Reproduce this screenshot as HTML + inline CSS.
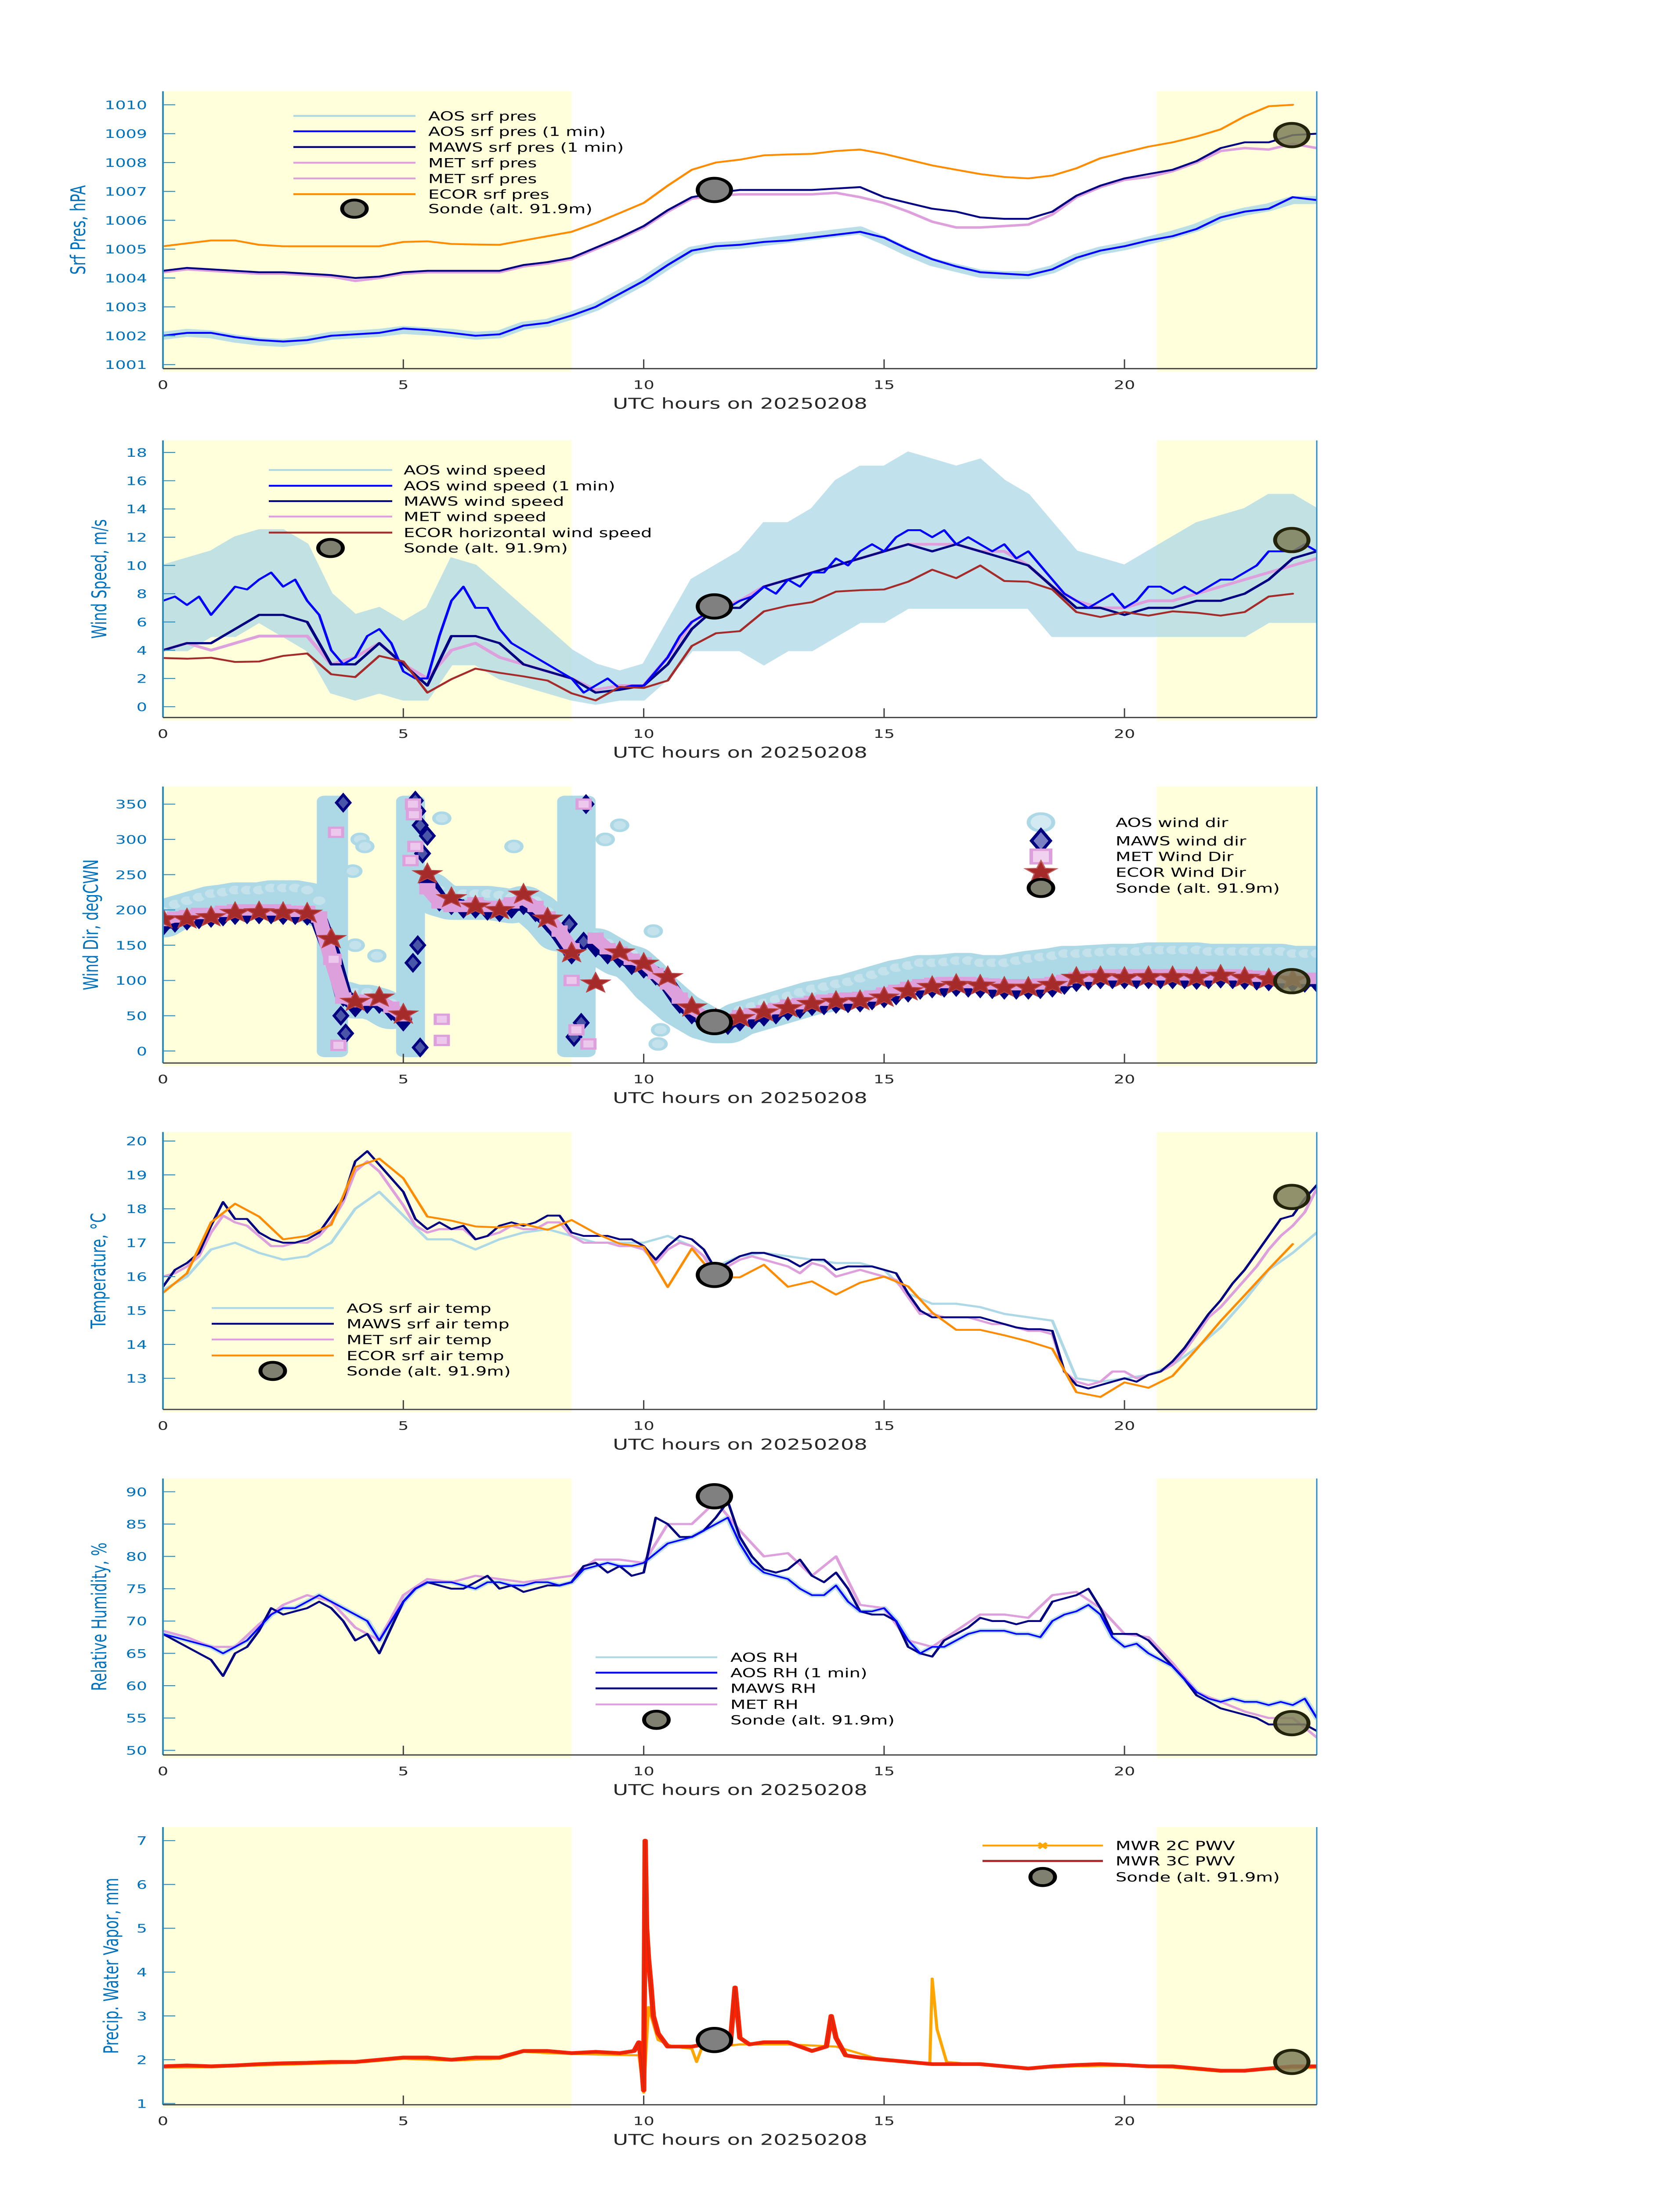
<!DOCTYPE html>
<html><head><meta charset="utf-8">
<style>
html,body{margin:0;padding:0;background:#fff;width:100vw;height:100vh;overflow:hidden;}
svg{display:block;position:absolute;left:0;top:0;width:100vw;height:100vh;}
text{font-family:"DejaVu Sans","Liberation Sans",sans-serif;}
</style></head>
<body>
<svg id="fig" xmlns="http://www.w3.org/2000/svg" viewBox="0 0 3825 7125" preserveAspectRatio="none">
<rect x="0" y="0" width="3825" height="7125" fill="#ffffff"/>
</svg>
<script>
// ---------------- DATA ----------------
const xTickHours=[0,5,10,15,20];
const nightStart=[0,20.67];
const nightEnd=[8.5,23.96];
// Pressure (0.5 h steps)
const presTicks=[1001,1002,1003,1004,1005,1006,1007,1008,1009,1010];
const aosRawPres=[1002.0,1002.1,1002.05,1001.9,1001.8,1001.75,1001.85,1002.0,1002.05,1002.1,1002.2,1002.15,1002.1,1002.0,1002.05,1002.35,1002.45,1002.7,1003.0,1003.45,1003.9,1004.45,1004.95,1005.1,1005.15,1005.25,1005.35,1005.45,1005.55,1005.65,1005.3,1004.9,1004.55,1004.35,1004.15,1004.1,1004.1,1004.3,1004.7,1004.95,1005.1,1005.3,1005.5,1005.75,1006.1,1006.3,1006.45,1006.7,1006.7];
const aos1Pres=[1002.0,1002.1,1002.1,1001.95,1001.85,1001.8,1001.85,1002.0,1002.05,1002.1,1002.25,1002.2,1002.1,1002.0,1002.05,1002.35,1002.45,1002.7,1003.0,1003.45,1003.9,1004.45,1004.95,1005.1,1005.15,1005.25,1005.3,1005.4,1005.5,1005.6,1005.4,1005.0,1004.65,1004.4,1004.2,1004.15,1004.1,1004.3,1004.7,1004.95,1005.1,1005.3,1005.45,1005.7,1006.1,1006.3,1006.4,1006.8,1006.7];
const mawsPres=[1004.25,1004.35,1004.3,1004.25,1004.2,1004.2,1004.15,1004.1,1004.0,1004.05,1004.2,1004.25,1004.25,1004.25,1004.25,1004.45,1004.55,1004.7,1005.05,1005.4,1005.8,1006.35,1006.8,1006.95,1007.05,1007.05,1007.05,1007.05,1007.1,1007.15,1006.8,1006.6,1006.4,1006.3,1006.1,1006.05,1006.05,1006.3,1006.85,1007.2,1007.45,1007.6,1007.75,1008.05,1008.5,1008.7,1008.7,1008.95,1009.0];
const metPres=[1004.2,1004.3,1004.25,1004.2,1004.15,1004.15,1004.1,1004.05,1003.9,1004.0,1004.15,1004.2,1004.2,1004.2,1004.2,1004.4,1004.5,1004.65,1005.0,1005.35,1005.75,1006.3,1006.75,1006.85,1006.9,1006.9,1006.9,1006.9,1006.95,1006.8,1006.6,1006.3,1005.95,1005.75,1005.75,1005.8,1005.85,1006.2,1006.8,1007.15,1007.4,1007.5,1007.7,1008.0,1008.4,1008.5,1008.45,1008.65,1008.5];
const ecorPres=[1005.1,1005.2,1005.3,1005.3,1005.15,1005.1,1005.1,1005.1,1005.1,1005.1,1005.25,1005.27,1005.18,1005.16,1005.15,1005.3,1005.45,1005.6,1005.9,1006.25,1006.6,1007.2,1007.75,1008.0,1008.1,1008.25,1008.28,1008.3,1008.4,1008.45,1008.3,1008.1,1007.9,1007.75,1007.6,1007.5,1007.45,1007.55,1007.8,1008.15,1008.35,1008.55,1008.7,1008.9,1009.15,1009.6,1009.95,1010.0];
const sondeHours=[11.47,23.48];
const sondePres=[1007.05,1008.95];
// Wind speed
const windTicks=[0,2,4,6,8,10,12,14,16,18];
const aosWindLo=[4,4,5,5,6,5,4,1,0.5,1,0.5,0.5,3,3,2,1.5,1,0.5,0.2,0.5,0.5,2,4,4,4,3,4,4,5,6,6,7,7,7,7,7,7,5,5,5,5,5,5,5,5,5,6,6,6];
const aosWindHi=[10,10.5,11,12,12.5,12.5,11.5,8,6.5,7,6,7,10.5,10,8.5,7,5.5,4,3,2.5,3,6,9,10,11,13,13,14,16,17,17,18,17.5,17,17.5,16,15,13,11,10.5,10,11,12,13,13.5,14,15,15,14];
const aos1Wind=[7.5,7.8,7.2,7.8,6.5,7.5,8.5,8.3,9.0,9.5,8.5,9.0,7.5,6.5,4.0,3.0,3.5,5.0,5.5,4.5,2.5,2.0,2.0,5.0,7.5,8.5,7.0,7.0,5.5,4.5,4.0,3.5,3.0,2.5,2.0,1.0,1.5,2.0,1.3,1.5,1.5,2.5,3.5,5.0,6.0,6.5,7.0,7.0,7.5,7.8,8.5,8.0,9.0,8.5,9.5,9.5,10.5,10.0,11.0,11.5,11.0,12.0,12.5,12.5,12.0,12.5,11.5,12.0,11.5,11.0,11.5,10.5,11.0,10.0,9.0,8.0,7.5,7.0,7.5,8.0,7.0,7.5,8.5,8.5,8.0,8.5,8.0,8.5,9.0,9.0,9.5,10.0,11.0,11.0,11.0,11.5,11.0];
const mawsWind=[4,4.5,4.5,5.5,6.5,6.5,6,3,3,4.5,3,1.5,5,5,4.5,3,2.5,2,1,1.2,1.5,3,5.5,7,7,8.5,9,9.5,10,10.5,11,11.5,11,11.5,11,10.5,10,8.5,7,7,6.5,7,7,7.5,7.5,8,9,10.5,11];
const metWind=[4,4.5,4,4.5,5,5,5,3,3.5,4.5,3,2,4,4.5,3.5,3,2.5,2,1.2,1.5,1.5,3.5,6,7,7.5,8.5,9,9.5,10,10.5,11,11.5,11.5,11.5,11,11,10,8.5,7.5,7,7,7.5,7.5,8,8.5,9,9.5,10,10.5];
const ecorWind=[3.45,3.4,3.47,3.17,3.2,3.6,3.77,2.3,2.1,3.6,3.2,1.0,1.95,2.7,2.4,2.15,1.85,0.95,0.45,1.4,1.33,1.85,4.3,5.2,5.35,6.75,7.15,7.4,8.15,8.25,8.3,8.85,9.7,9.1,10.0,8.9,8.85,8.3,6.7,6.35,6.7,6.45,6.75,6.65,6.45,6.7,7.8,8.0];
const sondeWind=[7.1,11.8];
// Wind direction (0.25 h steps)
const dirTicks=[0,50,100,150,200,250,300,350];
const aosDir=[185,195,200,205,210,212,215,215,215,218,218,218,215,200,null,75,70,70,65,55,null,null,230,215,210,210,210,210,208,205,210,200,185,165,null,null,150,140,130,125,110,90,75,60,50,40,35,35,45,50,55,60,65,70,75,78,82,85,90,95,100,105,108,112,112,113,115,115,112,112,112,115,118,120,122,125,125,126,127,128,128,128,130,130,130,130,130,128,128,128,128,128,128,128,125,125,125];
const aosSpikeStart=[3.2,4.85,8.2];
const aosSpikeEnd=[3.85,5.45,9.0];
const aosSpikeLo=[0,0,0];
const aosSpikeHi=[362,362,362];
const aosExtraHours=[3.95,4.1,4.2,4.45,5.8,7.3,9.2,9.5,10.3,10.35,10.2,4.0];
const aosExtraDir=[255,300,290,135,330,290,300,320,10,30,170,150];
const mawsDir=[180,185,188,190,192,194,196,197,197,197,196,196,195,185,140,80,65,70,70,60,45,null,240,215,210,205,205,202,200,205,210,200,185,165,140,null,150,140,135,125,120,110,95,70,55,45,40,40,45,48,52,55,60,63,67,68,70,71,72,75,78,82,86,90,92,93,94,93,92,91,90,90,90,91,93,97,101,103,105,105,105,105,105,105,105,105,104,105,106,105,104,103,102,101,100,100,100];
const metDir=[185,190,192,195,195,198,200,200,200,200,200,198,198,190,130,75,70,72,72,62,50,null,230,210,205,205,210,205,205,210,215,205,190,170,145,null,160,145,140,130,125,110,95,75,60,50,45,45,50,53,57,60,65,67,70,72,74,75,76,78,82,86,90,94,96,97,97,97,96,95,94,94,94,95,97,100,104,106,108,108,108,108,108,108,108,108,107,108,108,108,107,106,105,104,103,103,103];
const mawsSpikeHours=[3.75,3.8,3.7,5.25,5.3,5.35,5.4,5.5,5.3,5.2,5.35,8.8,8.55,8.7,8.75,8.45];
const mawsSpikeDir=[352,25,50,355,340,320,280,305,150,125,5,350,20,40,155,180];
const metSpikeHours=[3.6,3.65,3.55,5.2,5.22,5.25,5.15,5.8,5.8,8.75,8.85,8.6,8.5];
const metSpikeDir=[310,8,130,350,335,290,270,45,15,350,10,30,100];
const ecorDir=[187,187,190,196,197,196,195,159,70,76,52,251,217,205,200,222,188,139,96,140,124,105,62,45,47,55,61,67,70,71,76,85,91,94,93,90,90,94,104,105,104,105,105,104,107,104,102,101];
const sondeDir=[41,99];
// Temperature
const tempTicks=[13,14,15,16,17,18,19,20];
const aosTemp=[15.6,16.0,16.8,17.0,16.7,16.5,16.6,17.0,18.0,18.5,17.8,17.1,17.1,16.8,17.1,17.3,17.4,17.2,17.0,17.0,17.0,17.2,16.9,16.3,16.6,16.7,16.6,16.5,16.4,16.4,16.2,15.5,15.2,15.2,15.1,14.9,14.8,14.7,13.0,12.9,13.0,13.1,13.4,13.9,14.5,15.3,16.2,16.7,17.3];
const mawsTemp=[15.7,16.2,16.4,16.7,17.5,18.2,17.7,17.7,17.3,17.1,17.0,17.0,17.1,17.3,17.8,18.3,19.4,19.7,19.3,18.9,18.5,17.7,17.4,17.6,17.4,17.5,17.1,17.2,17.5,17.6,17.5,17.6,17.8,17.8,17.3,17.2,17.2,17.2,17.1,17.1,16.9,16.5,16.9,17.2,17.1,16.8,16.2,16.4,16.6,16.7,16.7,16.6,16.5,16.3,16.5,16.5,16.2,16.3,16.3,16.3,16.2,16.1,15.5,15.0,14.8,14.8,14.8,14.8,14.8,14.7,14.6,14.5,14.45,14.45,14.4,13.2,12.8,12.7,12.8,12.9,13.0,12.9,13.1,13.2,13.5,13.9,14.4,14.9,15.3,15.8,16.2,16.7,17.2,17.7,17.8,18.3,18.7];
const metTemp=[16.0,16.1,16.3,16.6,17.3,17.8,17.6,17.5,17.2,16.9,16.9,17.0,17.0,17.2,17.6,18.2,19.1,19.4,19.1,18.6,18.1,17.5,17.3,17.4,17.4,17.4,17.1,17.2,17.3,17.5,17.4,17.4,17.6,17.6,17.2,17.0,17.0,17.0,16.9,16.9,16.8,16.4,16.8,17.0,16.9,16.6,16.0,16.3,16.5,16.6,16.5,16.4,16.3,16.1,16.4,16.3,16.0,16.1,16.2,16.1,16.0,15.9,15.4,14.9,14.9,14.8,14.8,14.8,14.7,14.6,14.6,14.5,14.4,14.4,14.3,13.2,12.9,12.8,12.9,13.2,13.2,13.0,13.1,13.2,13.4,13.8,14.3,14.8,15.1,15.5,15.9,16.3,16.8,17.2,17.5,17.9,18.6];
const ecorTemp=[15.52,16.1,17.6,18.15,17.77,17.1,17.2,17.53,19.23,19.48,18.9,17.77,17.65,17.48,17.45,17.55,17.38,17.67,17.28,16.97,16.88,15.69,16.83,15.97,15.98,16.35,15.7,15.86,15.47,15.82,16.0,15.71,14.94,14.43,14.43,14.27,14.09,13.87,12.59,12.45,12.88,12.72,13.07,13.86,14.69,15.45,16.22,16.96];
const sondeTemp=[16.05,18.35];
// Relative humidity
const rhTicks=[50,55,60,65,70,75,80,85,90];
const aosRH=[68,67.5,67,66.5,66,65,66,67,69,71,72,72,73,74,73,72,71,70,67,70,73,75,76,76,76,75.5,75,76,76,75.5,75.5,76,76,75.5,76,78,78.5,79,78.5,78.5,79,80.5,82,82.5,83,84,85,86,82,79,77.5,77,76.5,75,74,74,75.5,73,71.5,71.5,72,70,67,65,66,66,67,68,68.5,68.5,68.5,68,68,67.5,70,71,71.5,72.5,71,67.5,66,66.5,65,64,63,61,59,58,57.5,58,57.5,57.5,57,57.5,57,58,55];
const mawsRH=[68,67,66,65,64,61.5,65,66,68.5,72,71,71.5,72,73,72,70,67,68,65,69,73,75,76,75.5,75,75,76,77,75,75.5,74.5,75,75.5,75.5,76,78.5,79,77.5,78.5,77,77.5,86,85,83,83,84,86,88.5,83,80,78,77.5,78,79.5,77,76,77.5,75,71.5,71,71,70,66,65,64.5,67,68,69,70.5,70,70,69.5,70,70,73,73.5,74,75,72,68,68,68,67,65,63,61,58.5,57.5,56.5,56,55.5,55,54,54,54,54,53];
const metRH=[68.5,67.5,66,66,69.5,72.5,74,73,69,67,74,76.5,76,77,76.5,76,76.5,77,79.5,79.5,79,85,85,88.5,84,80,80.5,77,80,72.5,72,67,66,68.5,71,71,70.5,74,74.5,72,68,67.5,63.5,59,57.5,56,55,55,52];
const sondeRH=[89.3,54.2];
// PWV
const pwvTicks=[1,2,3,4,5,6,7];
const pwv3cHours=[0,0.5,1,1.5,2,2.5,3,3.5,4,4.5,5,5.5,6,6.5,7,7.5,8,8.5,9,9.5,9.8,9.9,9.95,10.0,10.03,10.06,10.1,10.15,10.2,10.3,10.5,11,11.5,11.8,11.9,12.0,12.2,12.5,13,13.5,13.8,13.9,14.0,14.2,14.5,15,15.5,16,16.5,17,17.5,18,18.5,19,19.5,20,20.5,21,21.5,22,22.5,23,23.5,24];
const pwv3c=[1.85,1.87,1.85,1.87,1.9,1.92,1.93,1.95,1.95,2.0,2.05,2.05,2.0,2.05,2.05,2.2,2.2,2.15,2.18,2.15,2.2,2.4,2.0,1.3,7.0,5.0,4.3,3.7,3.0,2.6,2.3,2.3,2.4,2.35,3.65,2.5,2.35,2.4,2.4,2.2,2.3,3.0,2.5,2.1,2.05,2.0,1.95,1.9,1.9,1.9,1.85,1.8,1.85,1.88,1.9,1.88,1.85,1.85,1.8,1.75,1.75,1.8,1.85,1.85];
const pwv2cHours=[0,1,2,3,4,5,6,7,7.5,8,9,9.9,10.0,10.1,10.3,10.6,11,11.1,11.2,12,13,14,15,15.95,16.0,16.1,16.3,17,18,19,20,21,22,23,24];
const pwv2c=[1.82,1.83,1.87,1.9,1.93,2.02,1.98,2.02,2.18,2.15,2.12,2.1,1.25,3.2,2.45,2.3,2.25,1.95,2.25,2.35,2.35,2.3,1.98,1.9,3.85,2.7,1.95,1.88,1.8,1.85,1.86,1.82,1.73,1.78,1.82];
const sondePwv=[2.45,1.95];

// ---------------- LAYOUT ----------------
const SVGNS='http://www.w3.org/2000/svg';
const fig=document.getElementById('fig');
const X0=371, PXH=109.46, XR=2998;
function xs(h){return X0+h*PXH;}
function ys(p,v){return p.y1+(v-p.v1)*(p.y2-p.y1)/(p.v2-p.v1);}
function hoursOf(arr,step){return arr.map(function(_,i){return i*step;});}
function el(tag,parent){const e=document.createElementNS(SVGNS,tag);parent.appendChild(e);return e;}

const panels=[
 {key:'pres',top:296,bottom:1196,v1:1010,y1:340,v2:1001,y2:1183,ticks:presTicks,title:'Srf Pres, hPA',titleX:178},
 {key:'wind',top:1429,bottom:2328,v1:18,y1:1468,v2:0,y2:2293,ticks:windTicks,title:'Wind Speed, m/s',titleX:226},
 {key:'dir',top:2552,bottom:3449,v1:350,y1:2609,v2:0,y2:3410,ticks:dirTicks,title:'Wind Dir, degCWN',titleX:207},
 {key:'temp',top:3673,bottom:4573,v1:20,y1:3702,v2:13,y2:4472,ticks:tempTicks,title:'Temperature, \u00B0C',titleX:224},
 {key:'rh',top:4797,bottom:5694,v1:90,y1:4840,v2:50,y2:5679,ticks:rhTicks,title:'Relative Humidity, %',titleX:226},
 {key:'pwv',top:5928,bottom:6829,v1:7,y1:5972,v2:1,y2:6825,ticks:pwvTicks,title:'Precip. Water Vapor, mm',titleX:253}
];

function drawLine(g,p,hours,vals,color,w,name,op){
  let d='',pen=false;
  for(let i=0;i<vals.length;i++){
    if(vals[i]===null||vals[i]===undefined){pen=false;continue;}
    d+=(pen?'L':'M')+xs(hours[i]).toFixed(1)+' '+ys(p,vals[i]).toFixed(1);
    pen=true;
  }
  const e=el('path',g);
  e.setAttribute('d',d);
  e.setAttribute('fill','none');
  e.setAttribute('stroke',color);
  e.setAttribute('stroke-width',w);
  e.setAttribute('stroke-linejoin','round');
  e.setAttribute('stroke-linecap','round');
  if(op)e.setAttribute('opacity',op);
  
  
  return e;
}
function drawBand(g,p,hours,lo,hi,color,name,op){
  let d='';
  for(let i=0;i<hi.length;i++)d+=(i?'L':'M')+xs(hours[i]).toFixed(1)+' '+ys(p,hi[i]).toFixed(1);
  for(let i=lo.length-1;i>=0;i--)d+='L'+xs(hours[i]).toFixed(1)+' '+ys(p,lo[i]).toFixed(1);
  d+='Z';
  const e=el('path',g);
  e.setAttribute('d',d);
  e.setAttribute('fill',color);
  e.setAttribute('stroke',color);
  e.setAttribute('stroke-width',6);
  e.setAttribute('opacity',op);
  
  
}
function circle(g,cx,cy,r,fill,stroke,sw,name,op){
  const e=el('circle',g);
  e.setAttribute('cx',cx);e.setAttribute('cy',cy);e.setAttribute('r',r);
  e.setAttribute('fill',fill);e.setAttribute('stroke',stroke);e.setAttribute('stroke-width',sw);
  if(op)e.setAttribute('fill-opacity',op);
  
  
  return e;
}
function diamond(g,cx,cy,s,fill,stroke,sw,name){
  const e=el('path',g);
  e.setAttribute('d','M'+cx+' '+(cy-s)+'L'+(cx+s*0.6)+' '+cy+'L'+cx+' '+(cy+s)+'L'+(cx-s*0.6)+' '+cy+'Z');
  e.setAttribute('fill',fill);e.setAttribute('stroke',stroke);e.setAttribute('stroke-width',sw);
  
  
}
function square(g,cx,cy,s,fill,stroke,sw,name){
  const e=el('rect',g);
  e.setAttribute('x',cx-s);e.setAttribute('y',cy-s);e.setAttribute('width',2*s);e.setAttribute('height',2*s);
  e.setAttribute('fill',fill);e.setAttribute('stroke',stroke);e.setAttribute('stroke-width',sw);
  
  
}
function star(g,cx,cy,R,fill,stroke,name){
  let d='';
  for(let k=0;k<10;k++){
    const rr=(k%2===0)?R:R*0.42;
    const a=-Math.PI/2+k*Math.PI/5;
    d+=(k?'L':'M')+(cx+rr*Math.cos(a)).toFixed(1)+' '+(cy+rr*Math.sin(a)).toFixed(1);
  }
  const e=el('path',g);
  e.setAttribute('d',d+'Z');
  e.setAttribute('fill',fill);e.setAttribute('stroke',stroke);e.setAttribute('stroke-width',3);
  
  
}
function text(g,x,y,str,size,color,anchor,name,rot){
  const e=el('text',g);
  e.setAttribute('x',x);e.setAttribute('y',y);
  e.setAttribute('font-size',size);e.setAttribute('fill',color);
  e.setAttribute('text-anchor',anchor);
  if(rot)e.setAttribute('transform','rotate(-90 '+x+' '+y+')');
  e.textContent=str;
  
  
  return e;
}
function legLine(g,x1,x2,y,color,w,name){
  const e=el('line',g);
  e.setAttribute('x1',x1);e.setAttribute('x2',x2);e.setAttribute('y1',y);e.setAttribute('y2',y);
  e.setAttribute('stroke',color);e.setAttribute('stroke-width',w);
  
  
}
function sondes(g,p,vals){
  circle(g,xs(sondeHours[0]),ys(p,vals[0]),38,'#808080','#000000',9,'sonde-marker-1');
  circle(g,xs(sondeHours[1]),ys(p,vals[1]),38,'#7e7e58','#23230c',9,'sonde-marker-2',0.85);
}

panels.forEach(function(p){
  const g=el('g',fig);
  
  
  const cp=el('clipPath',g);
  cp.setAttribute('id','clip-'+p.key);
  const cr=el('rect',cp);
  cr.setAttribute('x',X0);cr.setAttribute('y',p.top);cr.setAttribute('width',XR-X0);cr.setAttribute('height',p.bottom-p.top);
  for(let i=0;i<nightStart.length;i++){
    const r=el('rect',g);
    r.setAttribute('x',xs(nightStart[i]));r.setAttribute('y',p.top);
    r.setAttribute('width',xs(nightEnd[i])-xs(nightStart[i]));r.setAttribute('height',p.bottom-p.top+10);
    r.setAttribute('fill','#ffffdc');
    
    
  }
  const dg=el('g',g);
  dg.setAttribute('clip-path','url(#clip-'+p.key+')');
  
  
  p.dg=dg;
  p.g=g;
});

// ---- Pressure ----
(function(){
  const p=panels[0],g=p.dg;
  drawLine(g,p,hoursOf(aosRawPres,0.5),aosRawPres,'#add8e6',26,'aos-srf-pres-line',0.85);
  drawLine(g,p,hoursOf(metPres,0.5),metPres,'#dda0dd',8,'met-srf-pres-line');
  drawLine(g,p,hoursOf(mawsPres,0.5),mawsPres,'#000080',6,'maws-srf-pres-line');
  drawLine(g,p,hoursOf(aos1Pres,0.5),aos1Pres,'#0000ff',6,'aos-srf-pres-1min-line');
  drawLine(g,p,hoursOf(ecorPres,0.5),ecorPres,'#ff8c00',6,'ecor-srf-pres-line');
  sondes(g,p,sondePres);
})();
// ---- Wind speed ----
(function(){
  const p=panels[1],g=p.dg;
  drawBand(g,p,hoursOf(aosWindHi,0.5),aosWindLo,aosWindHi,'#add8e6','aos-wind-speed-band',0.75);
  drawLine(g,p,hoursOf(metWind,0.5),metWind,'#dda0dd',9,'met-wind-speed-line');
  drawLine(g,p,hoursOf(mawsWind,0.5),mawsWind,'#000080',7,'maws-wind-speed-line');
  drawLine(g,p,hoursOf(aos1Wind,0.25),aos1Wind,'#0000ff',6,'aos-wind-speed-1min-line');
  drawLine(g,p,hoursOf(ecorWind,0.5),ecorWind,'#a52a2a',6,'ecor-wind-speed-line');
  sondes(g,p,sondeWind);
})();
// ---- Wind direction ----
(function(){
  const p=panels[2],g=p.dg;
  const h25=hoursOf(aosDir,0.25);
  drawLine(g,p,h25,aosDir,'#add8e6',110,'aos-wind-dir-band');
  for(let i=0;i<aosSpikeStart.length;i++){
    const r=el('rect',g);
    r.setAttribute('x',xs(aosSpikeStart[i]));r.setAttribute('width',xs(aosSpikeEnd[i])-xs(aosSpikeStart[i]));
    r.setAttribute('y',ys(p,aosSpikeHi[i]));r.setAttribute('height',ys(p,aosSpikeLo[i])-ys(p,aosSpikeHi[i])+20);
    r.setAttribute('rx',18);r.setAttribute('fill','#add8e6');
    
    
  }
  for(let i=0;i<aosDir.length;i++){if(aosDir[i]!==null)circle(g,xs(h25[i]),ys(p,aosDir[i])-30,18,'#c4e2ec','#add8e6',8,'aos-wind-dir-point');}
  for(let i=0;i<aosExtraHours.length;i++)circle(g,xs(aosExtraHours[i]),ys(p,aosExtraDir[i]),18,'#c4e2ec','#add8e6',8,'aos-wind-dir-point');
  drawLine(g,p,h25,mawsDir,'#000080',40,'maws-wind-dir-band');
  for(let i=0;i<mawsDir.length;i++){if(mawsDir[i]!==null)diamond(g,xs(h25[i]),ys(p,mawsDir[i])+8,28,'#000080','#000080',4,'maws-wind-dir-point');}
  for(let i=0;i<mawsSpikeHours.length;i++)diamond(g,xs(mawsSpikeHours[i]),ys(p,mawsSpikeDir[i]),26,'#4a55a8','#000080',7,'maws-wind-dir-point');
  drawLine(g,p,h25,metDir,'#dda0dd',34,'met-wind-dir-band');
  for(let i=0;i<metDir.length;i++){if(metDir[i]!==null)square(g,xs(h25[i]),ys(p,metDir[i]),17,'#dda0dd','#dda0dd',3,'met-wind-dir-point');}
  for(let i=0;i<metSpikeHours.length;i++)square(g,xs(metSpikeHours[i]),ys(p,metSpikeDir[i]),15,'#ecc8ec','#dda0dd',7,'met-wind-dir-point');
  const he=hoursOf(ecorDir,0.5);
  for(let i=0;i<ecorDir.length;i++)star(g,xs(he[i]),ys(p,ecorDir[i]),34,'#a52a2a','#b84040','ecor-wind-dir-point');
  sondes(g,p,sondeDir);
})();
// ---- Temperature ----
(function(){
  const p=panels[3],g=p.dg;
  drawLine(g,p,hoursOf(aosTemp,0.5),aosTemp,'#add8e6',7,'aos-srf-air-temp-line');
  drawLine(g,p,hoursOf(metTemp,0.25),metTemp,'#dda0dd',7,'met-srf-air-temp-line');
  drawLine(g,p,hoursOf(mawsTemp,0.25),mawsTemp,'#000080',6,'maws-srf-air-temp-line');
  drawLine(g,p,hoursOf(ecorTemp,0.5),ecorTemp,'#ff8c00',6,'ecor-srf-air-temp-line');
  sondes(g,p,sondeTemp);
})();
// ---- RH ----
(function(){
  const p=panels[4],g=p.dg;
  drawLine(g,p,hoursOf(aosRH,0.25),aosRH,'#add8e6',14,'aos-rh-line',0.8);
  drawLine(g,p,hoursOf(metRH,0.5),metRH,'#dda0dd',7,'met-rh-line');
  drawLine(g,p,hoursOf(mawsRH,0.25),mawsRH,'#000080',6,'maws-rh-line');
  drawLine(g,p,hoursOf(aosRH,0.25),aosRH,'#0000ff',5,'aos-rh-1min-line');
  sondes(g,p,sondeRH);
})();
// ---- PWV ----
(function(){
  const p=panels[5],g=p.dg;
  drawLine(g,p,pwv2cHours,pwv2c,'#ffa500',7,'mwr-2c-pwv-line');
  drawLine(g,p,pwv3cHours,pwv3c,'#ff2200',12,'mwr-3c-pwv-line');
  drawLine(g,p,pwv3cHours,pwv3c,'#b03020',3,'mwr-3c-pwv-core',0.6);
  sondes(g,p,sondePwv);
})();

// ---- Axes ----
panels.forEach(function(p){
  const g=p.g;
  let e=el('line',g);
  e.setAttribute('x1',X0);e.setAttribute('x2',X0);e.setAttribute('y1',p.top);e.setAttribute('y2',p.bottom);
  e.setAttribute('stroke','#2b8cbe');e.setAttribute('stroke-width',4);
  
  
  e=el('line',g);
  e.setAttribute('x1',XR);e.setAttribute('x2',XR);e.setAttribute('y1',p.top);e.setAttribute('y2',p.bottom);
  e.setAttribute('stroke','#2b8cbe');e.setAttribute('stroke-width',3);
  
  
  e=el('line',g);
  e.setAttribute('x1',X0);e.setAttribute('x2',XR);e.setAttribute('y1',p.bottom);e.setAttribute('y2',p.bottom);
  e.setAttribute('stroke','#404040');e.setAttribute('stroke-width',4);
  
  
  p.ticks.forEach(function(t){
    const y=ys(p,t);
    const tk=el('line',g);
    tk.setAttribute('x1',X0);tk.setAttribute('x2',X0+28);tk.setAttribute('y1',y);tk.setAttribute('y2',y);
    tk.setAttribute('stroke','#2b8cbe');tk.setAttribute('stroke-width',3);
    
    
    text(g,335,y+14,String(t),38,'#0072bd','end','y-tick-label');
  });
  xTickHours.forEach(function(h){
    const x=xs(h);
    if(h>0){
      const tk=el('line',g);
      tk.setAttribute('x1',x);tk.setAttribute('x2',x);tk.setAttribute('y1',p.bottom);tk.setAttribute('y2',p.bottom-30);
      tk.setAttribute('stroke','#404040');tk.setAttribute('stroke-width',3);
      
      
    }
    text(g,x,p.bottom+66,String(h),38,'#262626','middle','x-tick-label');
  });
  text(g,1685,p.bottom+130,'UTC hours on 20250208',48,'#262626','middle','x-axis-title');
  text(g,p.titleX+16,(p.top+p.bottom)/2,p.title,46,'#0072bd','middle','y-axis-title',true);
});

// ---- Legends ----
function legend(g,x1,x2,tx,rows){
  const lg=el('g',g);
  
  
  rows.forEach(function(r){
    if(r.kind==='line')legLine(lg,x1,x2,r.y,r.color,r.w||6,'legend-line');
    else if(r.kind==='sonde')circle(lg,(x1+x2)/2,r.y,r.r||28,'#808070','#000000',9,'legend-sonde-marker');
    else if(r.kind==='circle')circle(lg,(x1+x2)/2,r.y,28,'#d4eaf2','#add8e6',9,'legend-marker');
    else if(r.kind==='diamond')diamond(lg,(x1+x2)/2,r.y,36,'#7b80c4','#000080',8,'legend-marker');
    else if(r.kind==='square')square(lg,(x1+x2)/2,r.y,22,'#f0d2f0','#dda0dd',8,'legend-marker');
    else if(r.kind==='star')star(lg,(x1+x2)/2,r.y,38,'#a52a2a','#c06060','legend-marker');
    else if(r.kind==='xline'){legLine(lg,x1,x2,r.y,r.color,6,'legend-line');text(lg,(x1+x2)/2,r.y+13,'\u2716',34,r.color,'middle','legend-marker');}
    text(lg,tx,r.y+15,r.label,40,'#000000','start','legend-entry');
  });
}
legend(panels[0].g,668,946,975,[
 {kind:'line',y:376,color:'#add8e6',label:'AOS srf pres'},
 {kind:'line',y:426,color:'#0000ff',label:'AOS srf pres (1 min)'},
 {kind:'line',y:477,color:'#000080',label:'MAWS srf pres (1 min)'},
 {kind:'line',y:528,color:'#dda0dd',label:'MET srf pres'},
 {kind:'line',y:579,color:'#dda0dd',label:'MET srf pres'},
 {kind:'line',y:630,color:'#ff8c00',label:'ECOR srf pres'},
 {kind:'sonde',y:677,label:'Sonde (alt. 91.9m)'}]);
legend(panels[1].g,612,893,919,[
 {kind:'line',y:1525,color:'#add8e6',label:'AOS wind speed'},
 {kind:'line',y:1576,color:'#0000ff',label:'AOS wind speed (1 min)'},
 {kind:'line',y:1626,color:'#000080',label:'MAWS wind speed'},
 {kind:'line',y:1676,color:'#dda0dd',label:'MET wind speed'},
 {kind:'line',y:1728,color:'#a52a2a',label:'ECOR horizontal wind speed'},
 {kind:'sonde',y:1778,label:'Sonde (alt. 91.9m)'}]);
legend(panels[2].g,2300,2440,2540,[
 {kind:'circle',y:2668,label:'AOS wind dir'},
 {kind:'diamond',y:2728,label:'MAWS wind dir'},
 {kind:'square',y:2779,label:'MET Wind Dir'},
 {kind:'star',y:2830,label:'ECOR Wind Dir'},
 {kind:'sonde',y:2881,label:'Sonde (alt. 91.9m)'}]);
legend(panels[3].g,482,760,789,[
 {kind:'line',y:4244,color:'#add8e6',label:'AOS srf air temp'},
 {kind:'line',y:4295,color:'#000080',label:'MAWS srf air temp'},
 {kind:'line',y:4346,color:'#dda0dd',label:'MET srf air temp'},
 {kind:'line',y:4398,color:'#ff8c00',label:'ECOR srf air temp'},
 {kind:'sonde',y:4448,label:'Sonde (alt. 91.9m)'}]);
legend(panels[4].g,1356,1633,1663,[
 {kind:'line',y:5377,color:'#add8e6',label:'AOS RH'},
 {kind:'line',y:5427,color:'#0000ff',label:'AOS RH (1 min)'},
 {kind:'line',y:5478,color:'#000080',label:'MAWS RH'},
 {kind:'line',y:5530,color:'#dda0dd',label:'MET RH'},
 {kind:'sonde',y:5580,label:'Sonde (alt. 91.9m)'}]);
legend(panels[5].g,2237,2511,2540,[
 {kind:'xline',y:5988,color:'#ffa500',label:'MWR 2C PWV'},
 {kind:'line',y:6038,color:'#a52a2a',w:7,label:'MWR 3C PWV'},
 {kind:'sonde',y:6090,label:'Sonde (alt. 91.9m)'}]);
</script>
</body></html>
